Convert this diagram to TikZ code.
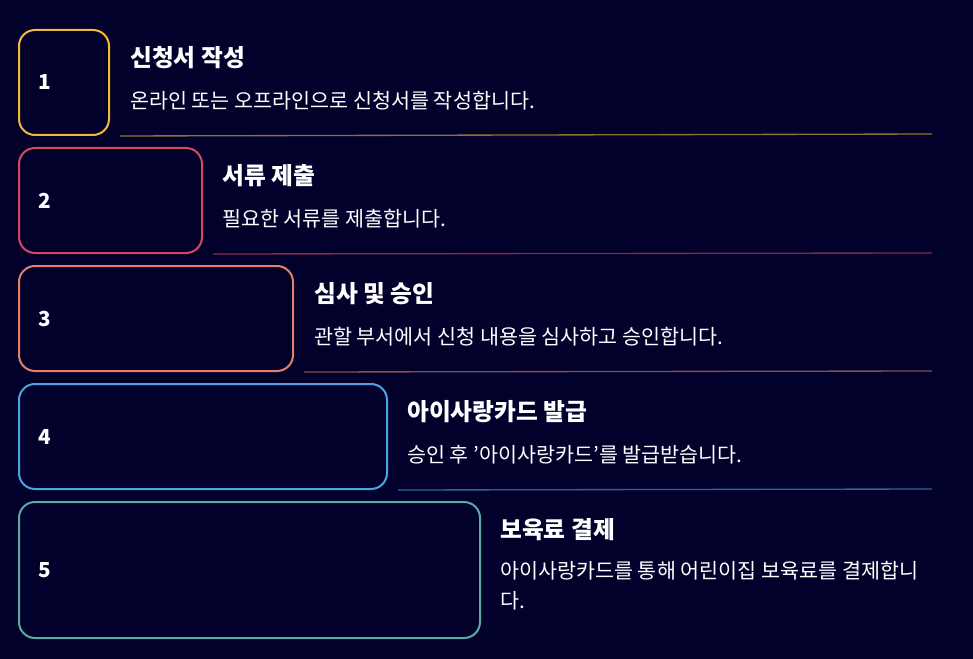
\documentclass[tikz,border=0pt]{standalone}
\usepackage{fontspec}
\setmainfont{Noto Sans CJK KR}
\usetikzlibrary{positioning}
\definecolor{bgnavy}{HTML}{02012B}
\definecolor{stepyellow}{HTML}{F2B93B}
\definecolor{stepred}{HTML}{D9475E}
\definecolor{steporange}{HTML}{E2806A}
\definecolor{stepblue}{HTML}{4BA6E0}
\definecolor{stepteal}{HTML}{5BAAA3}
\begin{document}
\begin{tikzpicture}[x=0.75pt,y=-0.75pt,
        numbox/.style={draw, line width=1.5pt, rounded corners=12pt, fill=bgnavy, anchor=north west, minimum height=105*0.75pt},
        numtext/.style={text=white, font=\bfseries\fontsize{15.5}{18}\selectfont, anchor=center},
        title/.style={text=white, font=\bfseries\fontsize{17.8}{20}\selectfont, anchor=west, inner sep=0pt},
        desc/.style={text=white, font=\fontsize{15.5}{22.5}\selectfont, anchor=west, inner sep=0pt, align=left},
        sepline/.style={line width=1pt, opacity=0.6},
        ]
        % background
        \fill[bgnavy] (0,0) rectangle (973,659);
        \useasboundingbox (0,0) rectangle (973,659);

        % step boxes
        \node[numbox, draw=stepyellow, minimum width=90*0.75pt] (box1) at (18,29) {};
        \node[numbox, draw=stepred, minimum width=183*0.75pt] (box2) at (18,147) {};
        \node[numbox, draw=steporange, minimum width=274*0.75pt] (box3) at (18,265) {};
        \node[numbox, draw=stepblue, minimum width=368*0.75pt] (box4) at (18,383) {};
        \node[numbox, draw=stepteal, minimum width=461*0.75pt, minimum height=136*0.75pt] (box5) at (18,501) {};

        % numbers
        \foreach \i in {1,...,5}
            \node[numtext] (num\i) at ([xshift=27*0.75pt]box\i.west) {\i};

        % titles and texts
        \node[title] (title1) at (130,58) {신청서 작성};
        \node[desc] (desc1) at (130,101) {온라인 또는 오프라인으로 신청서를 작성합니다.};
        \node[title] (title2) at (222,176) {서류 제출};
        \node[desc] (desc2) at (222,219) {필요한 서류를 제출합니다.};
        \node[title] (title3) at (314,294) {심사 및 승인};
        \node[desc] (desc3) at (314,337) {관할 부서에서 신청 내용을 심사하고 승인합니다.};
        \node[title] (title4) at (407,412) {아이사랑카드 발급};
        \node[desc] (desc4) at (407,455) {승인 후 '아이사랑카드'를 발급받습니다.};
        \node[title] (title5) at (500,530) {보육료 결제};
        \node[desc, anchor=north west] (desc5) at (500,561) {아이사랑카드를 통해 어린이집 보육료를 결제합니\\다.};

        % separators
        \coordinate (end1) at (932,134);
        \coordinate (end2) at (932,253);
        \coordinate (end3) at (932,371);
        \coordinate (end4) at (932,489);
        \draw[sepline, stepyellow] ([xshift=10*0.75pt]box1.south east) -- (end1);
        \draw[sepline, stepred] ([xshift=10*0.75pt]box2.south east) -- (end2);
        \draw[sepline, steporange] ([xshift=10*0.75pt]box3.south east) -- (end3);
        \draw[sepline, stepblue] ([xshift=10*0.75pt]box4.south east) -- (end4);
    \end{tikzpicture}
\end{document}
